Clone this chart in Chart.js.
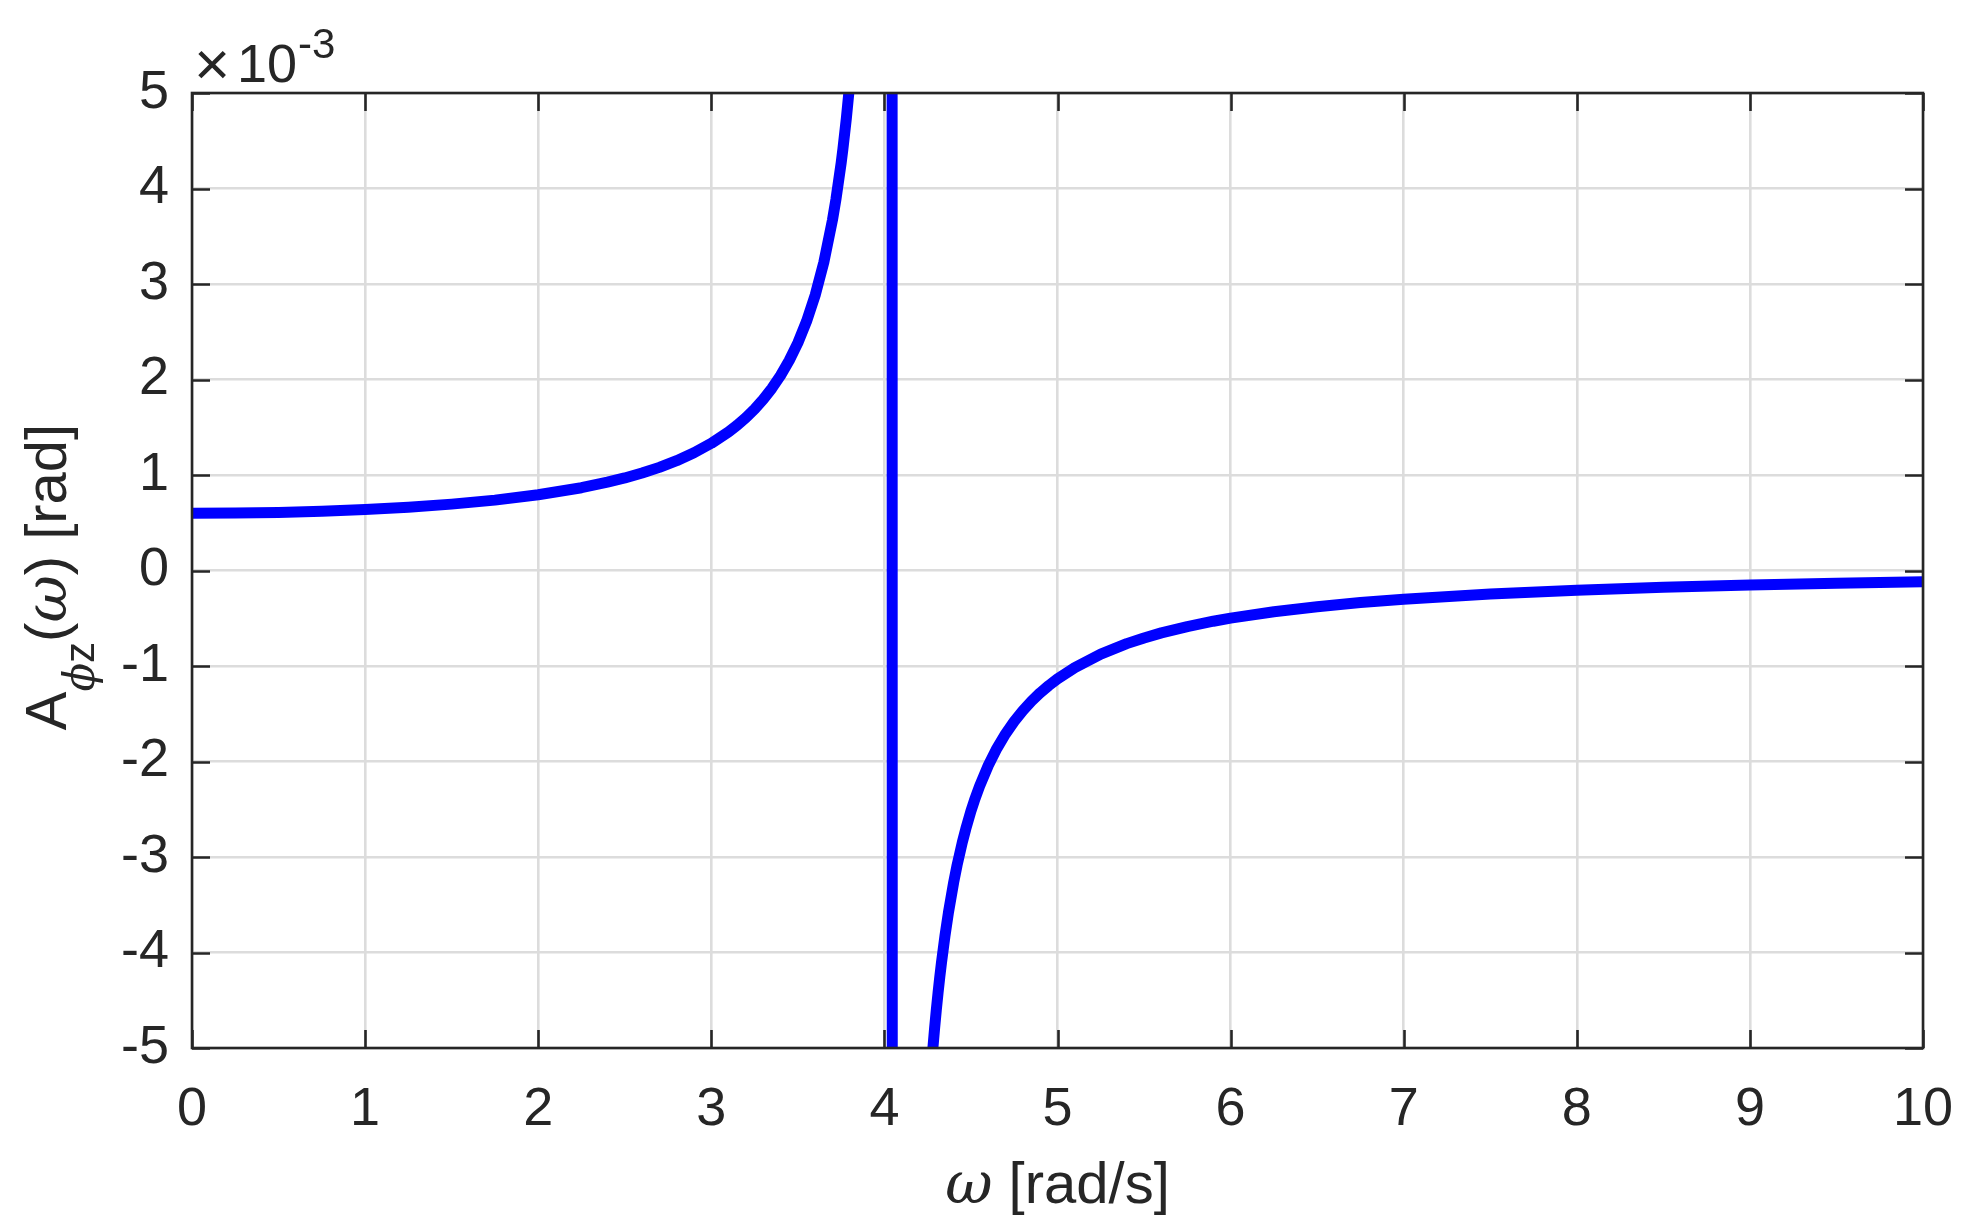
<!DOCTYPE html>
<html>
<head>
<meta charset="utf-8">
<script src="https://cdn.jsdelivr.net/npm/chart.js@4.4.1/dist/chart.umd.min.js"></script>
<style>
    html, body { margin: 0; padding: 0; background: #ffffff; }
    canvas { display: block; }
</style>
</head>
<body>
<canvas id="ampChart" width="1971" height="1230"></canvas>
<script>
// frequency samples [rad/s]; 4.045 is the resonance, left as a gap
const omega = [0, 0.25, 0.5, 0.75, 1, 1.25, 1.5, 1.75, 2, 2.25,
    2.4, 2.5, 2.6, 2.7, 2.8, 2.9, 3, 3.1, 3.15, 3.2,
    3.25, 3.3, 3.35, 3.4, 3.45, 3.5, 3.55, 3.6, 3.65, 3.7,
    3.72, 3.75, 3.76, 3.78, 3.8, 3.82, 3.85, 3.9, 4.0, 4.045,
    4.1, 4.2, 4.25, 4.27, 4.28, 4.29, 4.3, 4.31, 4.32,
    4.33, 4.35, 4.37, 4.4, 4.42, 4.45, 4.47, 4.5, 4.52, 4.55,
    4.6, 4.65, 4.7, 4.75, 4.8, 4.85, 4.9, 4.95, 5.0, 5.1,
    5.25, 5.4, 5.5, 5.6, 5.75, 5.9, 6, 6.25, 6.5, 6.75,
    7, 7.5, 8, 8.5, 9, 9.5, 10];
// A_phiz(omega), in units of 10^-3 rad (values past +-5 run off the axes)
const amplitude = [0.600, 0.601, 0.608, 0.620, 0.638, 0.662, 0.695, 0.737, 0.793, 0.867,
    0.925, 0.969, 1.021, 1.080, 1.150, 1.233, 1.332, 1.452, 1.522, 1.601,
    1.690, 1.792, 1.908, 2.042, 2.199, 2.384, 2.608, 2.882, 3.226, 3.670,
    3.886, 4.265, 4.410, 4.731, 5.104, 5.544, 6.374, 8.52, 27.2, null,
    -21.8, -7.66, -5.756, -5.232, -5.004, -4.794, -4.600, -4.422, -4.256,
    -4.102, -3.824, -3.581, -3.267, -3.085, -2.847, -2.707, -2.519, -2.408, -2.257,
    -2.042, -1.862, -1.710, -1.580, -1.467, -1.368, -1.281, -1.204, -1.134, -1.016,
    -0.875, -0.766, -0.706, -0.653, -0.587, -0.531, -0.499, -0.432, -0.379, -0.336,
    -0.300, -0.246, -0.206, -0.175, -0.152, -0.133, -0.117];
// the jump across the resonance, drawn as its own nearly vertical segment
const jumpOmega = [4.04, 4.05];
const jumpAmplitude = [60, -60];
const xTicks = [0, 1, 2, 3, 4, 5, 6, 7, 8, 9, 10];
const yTicks = [-5, -4, -3, -2, -1, 0, 1, 2, 3, 4, 5];

const textColor = '#262626';
const sansFont = '"Liberation Sans", Arial, Helvetica, sans-serif';
const serifFont = '"DejaVu Serif", "Liberation Serif", serif';

const points = omega.map(function (w, i) { return { x: w, y: amplitude[i] }; });
const jumpPoints = jumpOmega.map(function (w, i) { return { x: w, y: jumpAmplitude[i] }; });

// draws the matlab style box, inner ticks, axis labels and the exponent
const matlabAxes = {
    id: 'matlabAxes',
    afterDraw: function (chart) {
        const ctx = chart.ctx;
        const area = chart.chartArea;
        const xs = chart.scales.x, ys = chart.scales.y;
        const tickLen = 18;
        ctx.save();
        ctx.strokeStyle = textColor;
        ctx.lineWidth = 2.6;
        ctx.beginPath();
        xTicks.forEach(function (t) {
            const px = Math.round(xs.getPixelForValue(t)) + 0.5;
            ctx.moveTo(px, area.bottom); ctx.lineTo(px, area.bottom - tickLen);
            ctx.moveTo(px, area.top); ctx.lineTo(px, area.top + tickLen);
        });
        yTicks.forEach(function (t) {
            const py = Math.round(ys.getPixelForValue(t)) + 0.5;
            ctx.moveTo(area.left, py); ctx.lineTo(area.left + tickLen, py);
            ctx.moveTo(area.right, py); ctx.lineTo(area.right - tickLen, py);
        });
        ctx.stroke();
        ctx.strokeRect(area.left, area.top, area.right - area.left, area.bottom - area.top);

        ctx.fillStyle = textColor;
        ctx.textBaseline = 'alphabetic';

        // x10^-3 above the y axis
        ctx.textAlign = 'left';
        ctx.font = '62px ' + sansFont;
        ctx.fillText('\u00d7', 194, 85);
        ctx.font = '54px ' + sansFont;
        ctx.fillText('10', 237, 82);
        ctx.font = '42px ' + sansFont;
        ctx.fillText('-3', 298, 58);

        // x axis title
        const cx = (area.left + area.right) / 2;
        ctx.font = 'italic 58px ' + serifFont;
        const wOm = ctx.measureText('\u03c9').width;
        ctx.font = '58px ' + sansFont;
        const wRest = ctx.measureText(' [rad/s]').width;
        let x0 = cx - (wOm + wRest) / 2;
        ctx.font = 'italic 58px ' + serifFont;
        ctx.fillText('\u03c9', x0, 1203);
        ctx.font = '58px ' + sansFont;
        ctx.fillText(' [rad/s]', x0 + wOm, 1203);

        // y axis title, rotated
        const parts = [
            { t: 'A', f: '58px ' + sansFont, dy: 0 },
            { t: '\u03d5', f: 'italic 42px ' + serifFont, dy: 28 },
            { t: 'z', f: '42px ' + sansFont, dy: 28 },
            { t: '(', f: '58px ' + sansFont, dy: 0 },
            { t: '\u03c9', f: 'italic 58px ' + serifFont, dy: 0 },
            { t: ')', f: '58px ' + sansFont, dy: 0 },
            { t: ' [rad]', f: '58px ' + sansFont, dy: 0 }
        ];
        let total = 0;
        parts.forEach(function (p) { ctx.font = p.f; p.w = ctx.measureText(p.t).width; total += p.w; });
        ctx.translate(66, 577);
        ctx.rotate(-Math.PI / 2);
        let px = -total / 2;
        parts.forEach(function (p) {
            ctx.font = p.f;
            ctx.fillText(p.t, px, p.dy);
            px += p.w;
        });
        ctx.restore();
    }
};

const lineStyle = {
    borderColor: '#0000ff',
    borderWidth: 11,
    borderJoinStyle: 'round',
    borderCapStyle: 'round',
    pointRadius: 0,
    tension: 0,
    fill: false,
    spanGaps: false,
    clip: 0
};

const ctx = document.getElementById('ampChart').getContext('2d');
const ampChart = new Chart(ctx, {
    type: 'line',
    data: {
        datasets: [
            Object.assign({ data: points }, lineStyle),
            Object.assign({ data: jumpPoints }, lineStyle)
        ]
    },
    options: {
        responsive: false,
        animation: false,
        devicePixelRatio: 1,
        layout: {
            autoPadding: false,
            padding: { top: 93, right: 48, left: 0, bottom: 0 }
        },
        plugins: {
            legend: { display: false },
            tooltip: { enabled: false }
        },
        scales: {
            x: {
                type: 'linear',
                min: 0,
                max: 10,
                afterFit: function (scale) {
                    scale.height = 182;
                    scale.paddingLeft = 0; // keep the plot box where the reference has it
                    scale.paddingRight = 0;
                },
                afterBuildTicks: function (scale) {
                    scale.ticks = xTicks.map(function (v) { return { value: v }; });
                },
                border: { display: false },
                grid: { color: '#dcdcdc', lineWidth: 2.6, drawTicks: false },
                ticks: {
                    color: textColor,
                    font: { family: sansFont, size: 54 },
                    padding: 30,
                    maxRotation: 0,
                    callback: function (v) { return String(v); }
                }
            },
            y: {
                type: 'linear',
                min: -5,
                max: 5,
                afterFit: function (scale) {
                    scale.width = 192;
                    scale.paddingTop = 0;
                    scale.paddingBottom = 0;
                },
                afterBuildTicks: function (scale) {
                    scale.ticks = yTicks.map(function (v) { return { value: v }; });
                },
                border: { display: false },
                grid: { color: '#dcdcdc', lineWidth: 2.6, drawTicks: false },
                ticks: {
                    color: textColor,
                    font: { family: sansFont, size: 54 },
                    padding: 23,
                    callback: function (v) { return String(v); }
                }
            }
        }
    },
    plugins: [matlabAxes]
});
</script>
</body>
</html>
